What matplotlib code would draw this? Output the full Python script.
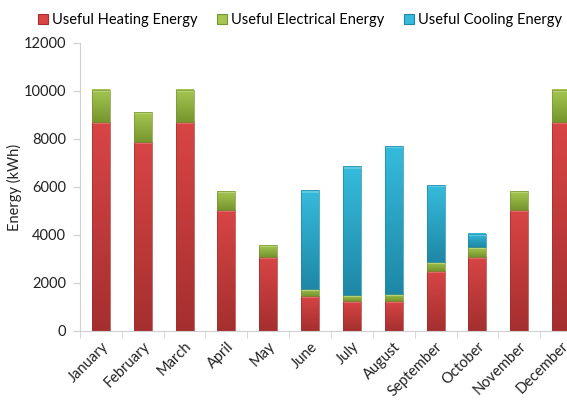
import numpy as np
import matplotlib.pyplot as plt
from matplotlib.colors import LinearSegmentedColormap, to_rgb

months = ['January', 'February', 'March', 'April', 'May', 'June', 'July',
          'August', 'September', 'October', 'November', 'December']
heating = [8700, 7870, 8700, 5060, 3100, 1460, 1250, 1250, 2500, 3100, 5060, 8700]
electrical = [1350, 1250, 1350, 760, 500, 300, 250, 300, 390, 400, 760, 1350]
cooling = [0, 0, 0, 0, 0, 4100, 5360, 6150, 3180, 560, 0, 0]

series = [
    ('Useful Heating Energy', heating, '#d84545', '#a52f2f'),
    ('Useful Electrical Energy', electrical, '#a6c652', '#76962e'),
    ('Useful Cooling Energy', cooling, '#36bbdc', '#1e88a6'),
]

plt.rcParams['font.family'] = ['Lato', 'DejaVu Sans']

fig = plt.figure(figsize=(5.67, 4.0), dpi=100)
# axes runs past the right edge, like the reference crop
ax = fig.add_axes([80 / 567, 1 - 331 / 400, 502 / 567, 288 / 400])

x = np.arange(len(months))
bottom = np.zeros(len(months))
handles = []
for name, vals, top_c, bot_c in series:
    vals = np.array(vals, dtype=float)
    bars = ax.bar(x, vals, width=0.43, bottom=bottom, color='none',
                  edgecolor=bot_c, linewidth=0.5, label=name, zorder=3)
    cmap = LinearSegmentedColormap.from_list(name, [bot_c, top_c])
    grad = np.linspace(0, 1, 64).reshape(-1, 1)
    light = 0.8 * np.array(to_rgb(top_c)) + 0.2
    for b in bars:
        h = b.get_height()
        if h <= 0:
            b.set_linewidth(0)
            continue
        x0, y0, w = b.get_x(), b.get_y(), b.get_width()
        ax.imshow(grad, cmap=cmap, origin='lower', aspect='auto',
                  extent=(x0, x0 + w, y0, y0 + h), zorder=2)
        # lighter bevel strip on top of each segment
        cap = min(h * 0.4, 90)
        ax.bar(x0 + w / 2, cap, width=w, bottom=y0 + h - cap,
               color=light, linewidth=0, zorder=2.5)
    handles.append(plt.Rectangle((0, 0), 1, 1, facecolor=top_c,
                                 edgecolor=bot_c, linewidth=0.8))
    bottom += vals

ax.set_xlim(-0.5, len(months) - 0.5)
ax.set_ylim(0, 12000)
ax.set_yticks(range(0, 12001, 2000))
ax.set_xticks(x)
ax.set_xticklabels(months, rotation=45, ha='right', rotation_mode='anchor')
ax.set_xticks(np.arange(-0.5, len(months), 1), minor=True)
ax.tick_params(axis='x', which='major', length=0, pad=6, labelsize=10.5,
               labelcolor='#222222')
ax.tick_params(axis='x', which='minor', length=5, color='#d0d0d0')
ax.tick_params(axis='y', length=5, color='#d0d0d0', labelsize=10.5,
               labelcolor='#222222', pad=5)
for s in ['top', 'right']:
    ax.spines[s].set_visible(False)
ax.spines['left'].set_color('#d0d0d0')
ax.spines['bottom'].set_color('#d0d0d0')
ax.set_ylabel('Energy (kWh)', fontsize=10.5, color='#222222', labelpad=1)

fig.legend(handles, [s[0] for s in series], loc='center', ncol=3,
           bbox_to_anchor=(300 / 567, 1 - 20 / 400), frameon=False,
           fontsize=10.5, handlelength=0.7, handleheight=0.7,
           handletextpad=0.3, columnspacing=1.3)

fig.savefig('out.png', dpi=100)
